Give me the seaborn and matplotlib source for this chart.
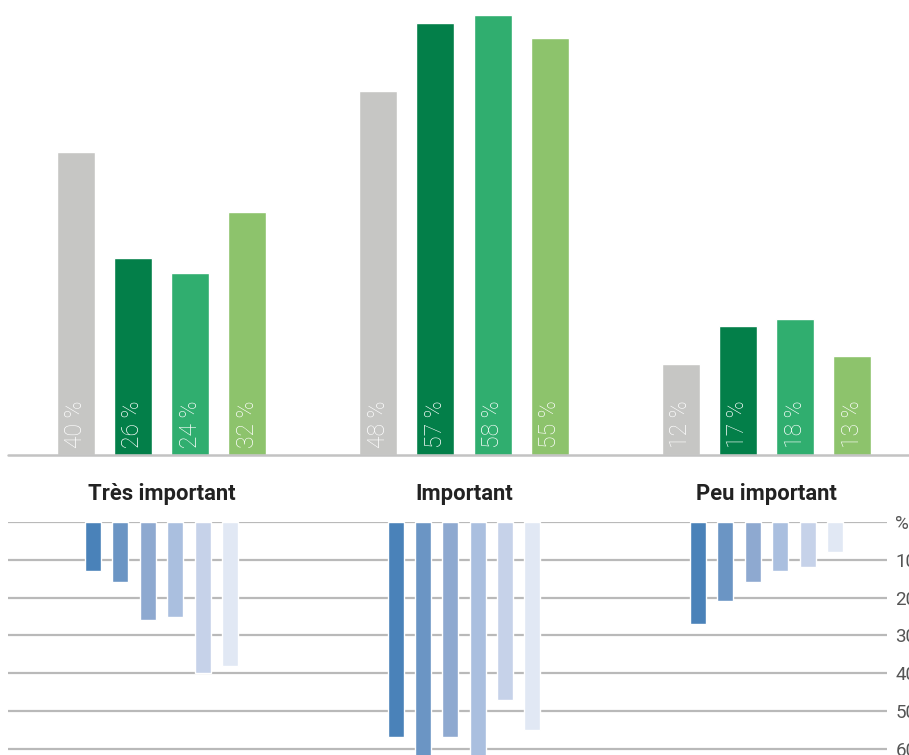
import matplotlib
matplotlib.use("Agg")
import matplotlib.pyplot as plt
import seaborn as sns
import pandas as pd

# Categories shared by both panels
categories = ["Très important", "Important", "Peu important"]

# Upper panel: four series (percent)
top_series = ["Série 1", "Série 2", "Série 3", "Série 4"]
top_s1 = [40, 48, 12]
top_s2 = [26, 57, 17]
top_s3 = [24, 58, 18]
top_s4 = [32, 55, 13]
top_colors = ["#c6c6c4", "#037f49", "#30ae6f", "#8dc36c"]

# Lower panel: six series (percent), drawn downwards
low_series = ["A", "B", "C", "D", "E", "F"]
low_a = [13, 57, 27]
low_b = [16, 63, 21]
low_c = [26, 57, 16]
low_d = [25, 62, 13]
low_e = [40, 47, 12]
low_f = [38, 55, 8]
low_colors = ["#4a82b9", "#6b95c4", "#8ea9d0", "#aabfdf", "#c6d2e9", "#e1e8f4"]

# Right-hand axis labels of the lower panel
low_ticks = [0, 10, 20, 30, 40, 50, 60]
low_tick_labels = ["%", "10", "20", "30", "40", "50", "60"]


def long_table(names, columns):
    rows = []
    for name, vals in zip(names, columns):
        for cat, v in zip(categories, vals):
            rows.append({"cat": cat, "serie": name, "val": v})
    return pd.DataFrame(rows)


top_df = long_table(top_series, [top_s1, top_s2, top_s3, top_s4])
low_df = long_table(low_series, [low_a, low_b, low_c, low_d, low_e, low_f])

sns.set_theme(style="white")
plt.rcParams["font.family"] = ["Roboto", "DejaVu Sans"]

W, H = 909, 755
fig = plt.figure(figsize=(W / 100, H / 100), dpi=100)

# pixel geometry of the two panels
unit = 302.5          # px per category
x0 = 161.5            # px of first category centre
left_px = 8
top_ax = fig.add_axes([left_px / W, (H - 455) / H, (W - left_px) / W, 455 / H])
low_ax = fig.add_axes([left_px / W, 0, (887 - left_px) / W, (H - 522) / H])

# ---- upper panel ----
sns.barplot(data=top_df, x="cat", y="val", hue="serie", order=categories,
            hue_order=top_series, palette=top_colors, width=0.755, gap=0.333,
            saturation=1, legend=False, ax=top_ax)
top_ax.set_xlim((left_px - x0) / unit, (W - x0) / unit)
top_ax.set_ylim(0, 60)
top_ax.axhline(0, color="#c3c3c3", lw=1.8, zorder=3, clip_on=False)
for s in top_ax.spines.values():
    s.set_visible(False)
top_ax.set_yticks([])
top_ax.set_xlabel("")
top_ax.set_ylabel("")
top_ax.tick_params(axis="x", length=0, pad=20)
for lab in top_ax.get_xticklabels():
    lab.set_fontsize(15.8)
    lab.set_fontweight("bold")
    lab.set_color("#222222")

for p in top_ax.patches:
    h = p.get_height()
    if h <= 0:
        continue
    top_ax.text(p.get_x() + p.get_width() / 2, 0.9, f"{h:.0f} %",
                rotation=90, ha="center", va="bottom", color="white",
                fontsize=16.5, fontweight="light")

# ---- lower panel ----
sns.barplot(data=low_df, x="cat", y="val", hue="serie", order=categories,
            hue_order=low_series, palette=low_colors, width=0.543, gap=0.416,
            saturation=1, legend=False, ax=low_ax)
low_ax.set_xlim((left_px - x0) / unit, (887 - x0) / unit)
low_ax.set_ylim((H - 522) / 37.8 * 10, 0)
for s in low_ax.spines.values():
    s.set_visible(False)
low_ax.set_xticks([])
low_ax.set_xlabel("")
low_ax.set_ylabel("")
low_ax.set_axisbelow(True)
low_ax.yaxis.grid(True, color="#b9b9b9", lw=1.6)
low_ax.yaxis.tick_right()
low_ax.set_yticks(low_ticks)
low_ax.set_yticklabels(low_tick_labels)
low_ax.tick_params(axis="y", length=0, pad=6, labelsize=13.5, labelcolor="#555555")

fig.savefig("out.png", dpi=100)
